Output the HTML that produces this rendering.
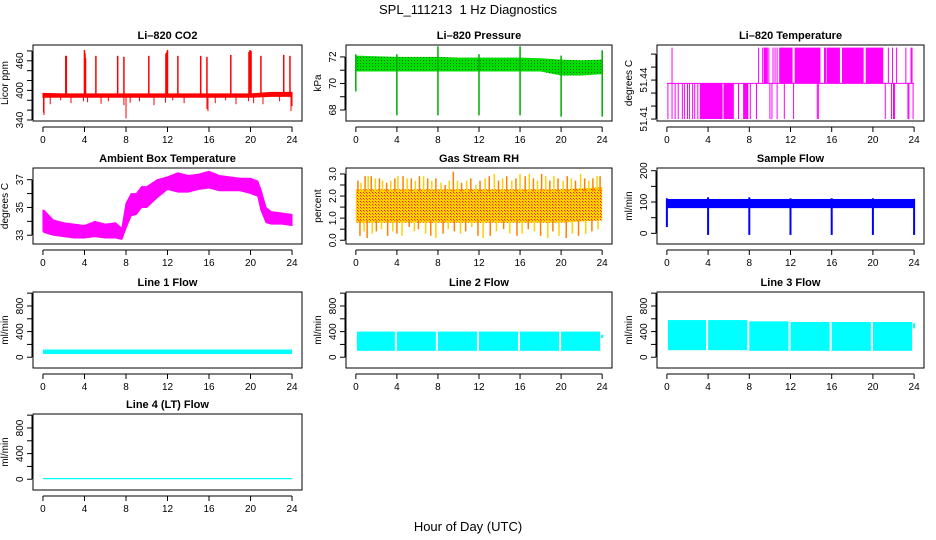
<!DOCTYPE html>
<html><head><meta charset="utf-8"><style>
body{margin:0;background:#fff}
svg{display:block;font-family:"Liberation Sans",Arial,sans-serif}
</style></head><body>
<svg id="c" width="936" height="540" viewBox="0 0 936 540">
<defs><pattern id="rhp" width="3" height="3" patternUnits="userSpaceOnUse"><rect width="3" height="3" fill="#ffd000"/><rect width="1" height="1" fill="#ff2000"/><rect x="1" y="1" width="1" height="1" fill="#ff6000"/></pattern>
<pattern id="prp" width="3" height="3" patternUnits="userSpaceOnUse"><rect width="3" height="3" fill="#00dd00"/><rect width="1" height="1" fill="#007000"/></pattern></defs>
<text x="468" y="14" text-anchor="middle" font-size="13">SPL_111213&#160; 1 Hz Diagnostics</text>
<text x="468" y="531" text-anchor="middle" font-size="13">Hour of Day (UTC)</text>
</svg>
<script>
// ---- data ----
const xTicks=[0,4,8,12,16,20,24];
const co2T=[0,2,4,6,8,10,12,14,16,18,20,22,24];
const co2Lo=[386,386,386,386,386,386,386,386,386,386,386,388,388];
const co2Hi=[394,393,393,393,393,393,393,393,393,393,393,396,396];
const co2SpikeT=[2.2,2.25,4.0,4.05,4.1,5.1,7.2,7.8,10.2,11.85,11.95,12.0,13.0,15.2,15.8,18.1,19.85,19.95,20.05,21.0,23.2,23.8];
const co2SpikeV=[470,470,482,475,465,470,470,468,470,475,478,482,470,470,468,472,478,482,480,470,472,470];
const co2DipT=[0.05,0.1,0.7,1.7,2.7,3.9,4.3,5.6,6.3,7.8,8.0,8.4,9.3,10.7,11.8,12.5,13.6,15.8,15.9,16.6,17.6,18.6,19.8,20.3,21.2,22.8,23.9,24.0];
const co2DipV=[355,350,372,380,374,378,376,373,378,370,343,375,378,370,375,380,374,362,358,374,380,372,378,374,372,378,358,368];
const presT=[0,2,4,6,8,10,12,14,16,18,20,22,24];
const presLo=[70.9,70.9,70.9,70.9,70.9,70.9,70.9,70.9,70.9,70.9,70.6,70.6,70.7];
const presHi=[72.1,72.05,72,72,72,71.95,71.95,71.95,71.95,71.9,71.8,71.75,71.8];
const presCalT=[0,4,8,12,16,20,24];
const presCalLo=[69.4,67.6,67.6,67.6,67.6,67.5,67.5];
const presCalHi=[72.2,72.2,72.8,72.2,72.8,72.1,72.5];
const tempLevels=[51.41,51.4375,51.465];
const tempLowLines=[0.1,0.5,0.8,1.1,1.5,1.7,2.0,2.2,2.5,2.7,3.0,8.1,8.7,10.0,10.2,10.7,11.4,12.3,14.6,14.7,21.2,21.8,22.0,22.1,23.4,23.5,23.9];
const tempLowBlocks=[[3.2,5.4],[5.5,6.5],[6.9,7.0],[7.4,7.9]];
const tempHighLines=[0.5,8.9,9.3,9.5,9.9,10.3,10.5,10.7,15.3,15.4,21.5,21.9,22.3,23.2,23.7,23.8];
const tempHighBlocks=[[9.4,9.8],[10.9,12.2],[12.4,14.9],[15.5,16.8],[17.0,19.1],[19.3,21.0]];
const boxT=[0,0.1,1,2,3,4,5,6,7,7.6,8,8.5,9,9.5,10,11,12,13,14,15,16,17,18,19,20,20.7,21,21.5,22,23,24];
const boxLo=[33.3,33.2,33.0,32.9,32.8,32.8,32.9,32.8,32.8,32.7,33.5,34.4,34.5,35.0,35.0,35.7,36.3,36.1,36.1,36.3,36.4,36.2,36.2,36.2,36.0,35.8,34.8,33.9,33.8,33.8,33.7];
const boxHi=[34.8,34.8,34.1,33.9,33.8,33.7,34.0,33.8,33.9,33.5,35.3,36.0,36.0,36.5,36.5,37.0,37.2,37.5,37.3,37.4,37.6,37.3,37.2,37.1,37.1,36.9,36.3,35.0,34.7,34.6,34.5];
const rhT=[0,4,8,12,16,20,24];
const rhLo=[0.8,0.8,0.8,0.8,0.8,0.8,0.9];
const rhHi=[2.3,2.3,2.3,2.3,2.3,2.3,2.4];
const rhUpT=[0.2,0.5,0.9,1.2,1.5,1.9,2.3,2.6,3.0,3.4,3.8,4.1,4.6,5.0,5.4,5.8,6.2,6.6,7.0,7.4,7.8,8.3,8.7,9.1,9.5,9.9,10.3,10.8,11.2,11.7,12.1,12.6,13.0,13.5,13.9,14.3,14.7,15.2,15.6,16.0,16.5,16.9,17.3,17.7,18.1,18.5,18.9,19.3,19.7,20.2,20.6,21.0,21.4,21.9,22.3,22.7,23.1,23.5,23.8];
const rhUpV=[2.7,2.6,2.9,2.9,2.9,2.8,2.8,2.7,2.6,2.7,2.8,2.9,2.9,2.8,2.8,2.7,2.9,2.9,2.8,2.7,2.8,2.6,2.5,2.7,3.1,2.7,2.6,2.7,2.8,2.5,2.7,2.8,2.9,3.0,2.7,2.8,2.9,2.7,2.8,3.0,2.9,3.0,2.8,2.7,3.0,2.9,2.7,2.9,2.8,2.7,2.9,2.8,2.7,3.0,2.8,2.7,2.8,2.9,2.9];
const rhDnT=[0.4,0.8,1.1,1.6,2.0,2.5,3.1,3.6,4.0,4.5,5.2,5.7,6.1,6.8,7.3,7.8,8.5,9.0,9.6,10.2,10.7,11.3,11.9,12.4,13.1,13.7,14.4,15.0,15.7,16.2,16.8,17.4,18.0,18.7,19.2,19.8,20.5,21.1,21.7,22.4,23.0,23.6];
const rhDnV=[0.2,0.4,0.1,0.3,0.4,0.5,0.2,0.4,0.3,0.2,0.6,0.4,0.5,0.3,0.2,0.1,0.3,0.5,0.4,0.3,0.4,0.6,0.2,0.1,0.2,0.4,0.5,0.3,0.2,0.3,0.5,0.4,0.2,0.1,0.4,0.2,0.1,0.3,0.2,0.3,0.4,0.5];
const sfT=[0,24];
const sfLo=[82,82];
const sfHi=[108,108];
const sfCalT=[0,4,8,12,16,20,24];
const sfCalLo=[20,-5,-5,-5,-5,-5,-5];
const sfCalHi=[112,115,115,112,112,112,110];
const segStart=[0.1,4.0,8.0,12.0,16.0,20.0];
const segEnd=[3.8,7.8,11.8,15.8,19.8,23.8];
const l1Lo=50, l1Hi=120;
const l2Lo=[100,100,100,100,100,100];
const l2Hi=[400,400,400,400,400,400];
const l3Lo=[110,110,100,100,100,100];
const l3Hi=[580,580,560,550,550,550];
const l4Lo=0, l4Hi=20;

// ---- layout ----
const svg=document.getElementById('c');
const NS='http://www.w3.org/2000/svg';
const colL=[33,346,657], colR=[302,612,924], rowT=[45,168,292,414], BH=76;
function mk(tag,attrs,parent){const e=document.createElementNS(NS,tag);for(const k in attrs)e.setAttribute(k,attrs[k]);(parent||svg).appendChild(e);return e;}
function panel(name,col,row,title,ylab,yd,yticks,ylabels){
  const L=colL[col],R=colR[col],T=rowT[row],B=T+BH;
  const g=mk('g',{});
  
  
  const pad=(R-L)/1.08*0.04;
  const sx=v=>L+pad+(v+0)*(R-L-2*pad)/24;
  const sy=v=>B-(v-yd[0])/(yd[1]-yd[0])*BH;
  const plot=mk('g',{},g);
  
  
  const box=mk('rect',{x:L,y:T,width:R-L,height:BH,fill:'none',stroke:'#000','stroke-width':1},g);
  
  
  const t=mk('text',{x:(L+R)/2,y:T-6,'text-anchor':'middle','font-size':11,'font-weight':'bold'},g);t.textContent=title;
  
  
  const xa=mk('g',{},g);
  
  
  mk('line',{x1:sx(0),x2:sx(24),y1:B+6,y2:B+6,stroke:'#000'},xa);
  xTicks.forEach(v=>{mk('line',{x1:sx(v),x2:sx(v),y1:B+6,y2:B+11,stroke:'#000'},xa);
    const tl=mk('text',{x:sx(v),y:B+22,'text-anchor':'middle','font-size':10},xa);tl.textContent=v;});
  const ya=mk('g',{},g);
  
  
  mk('line',{x1:L-1,x2:L-1,y1:sy(yticks[0]),y2:sy(yticks[yticks.length-1]),stroke:'#000'},ya);
  yticks.forEach(v=>{mk('line',{x1:L-6,x2:L-1,y1:sy(v),y2:sy(v),stroke:'#000'},ya);});
  ylabels.forEach(v=>{const x=L-10,y=sy(parseFloat(v));const tl=mk('text',{x:x,y:y,'text-anchor':'middle','font-size':10,transform:`rotate(-90 ${x} ${y})`},ya);tl.textContent=v;});
  const yt=mk('text',{x:L-25,y:(T+B)/2,'text-anchor':'middle','font-size':10,transform:`rotate(-90 ${L-25} ${(T+B)/2})`},g);yt.textContent=ylab;
  
  
  return {sx,sy,plot};
}
function band(p,ts,lo,hi,fill){
  let pts=ts.map((t,i)=>p.sx(t)+','+p.sy(hi[i]));
  for(let i=ts.length-1;i>=0;i--)pts.push(p.sx(ts[i])+','+p.sy(lo[i]));
  const e=mk('polygon',{points:pts.join(' '),fill:fill,stroke:fill.startsWith('url')?'none':fill,'stroke-width':1},p.plot);
  
  
}
function vline(p,t,a,b,col,w){
  const e=mk('line',{x1:p.sx(t),x2:p.sx(t),y1:p.sy(a),y2:p.sy(b),stroke:col,'stroke-width':w||1},p.plot);
  
  
}
function block(p,a,b,lo,hi,col){
  const e=mk('rect',{x:p.sx(a),y:p.sy(hi),width:p.sx(b)-p.sx(a),height:p.sy(lo)-p.sy(hi),fill:col},p.plot);
  
  
}
function interp(ts,vs,t){for(let i=0;i<ts.length-1;i++)if(t<=ts[i+1])return vs[i]+(vs[i+1]-vs[i])*(t-ts[i])/(ts[i+1]-ts[i]);return vs[vs.length-1];}

// CO2
let p=panel('co2',0,0,'Li\u2013820 CO2','Licor ppm',[338,492],[340,360,380,400,420,440,460,480],['340','400','460']);
band(p,co2T,co2Lo,co2Hi,'#ff0000');
co2SpikeT.forEach((t,i)=>vline(p,t,interp(co2T,co2Lo,t),co2SpikeV[i],'#ff0000',1.5));
co2DipT.forEach((t,i)=>vline(p,t,interp(co2T,co2Lo,t),co2DipV[i],'#ff0000',1));
// Pressure
p=panel('pressure',1,0,'Li\u2013820 Pressure','kPa',[67.17,72.9],[68,69,70,71,72],['68','70','72']);
band(p,presT,presLo,presHi,'url(#prp)');
presCalT.forEach((t,i)=>{vline(p,t,presCalLo[i],presCalHi[i],'#00dd00',1.5);vline(p,t,presCalLo[i],presCalHi[i],'#004400',0.5);});
// Li-820 temperature
p=panel('temperature',2,0,'Li\u2013820 Temperature','degrees C',[51.4085,51.467],[51.41,51.42,51.43,51.44,51.45,51.46],['51.41','51.44']);
const mg='#ff00ff';
(function(){const e=mk('line',{x1:p.sx(0),x2:p.sx(24),y1:p.sy(tempLevels[1]),y2:p.sy(tempLevels[1]),stroke:mg},p.plot);

})();
tempLowBlocks.forEach(b=>block(p,b[0],b[1],tempLevels[0],tempLevels[1],mg));
tempHighBlocks.forEach(b=>block(p,b[0],b[1],tempLevels[1],tempLevels[2],mg));
tempLowLines.forEach(t=>vline(p,t,tempLevels[0],tempLevels[1],mg));
tempHighLines.forEach(t=>vline(p,t,tempLevels[1],tempLevels[2],mg));
// Ambient box temperature
p=panel('box-temperature',0,1,'Ambient Box Temperature','degrees C',[32.37,37.84],[33,34,35,36,37],['33','35','37']);
band(p,boxT,boxLo,boxHi,mg);
// RH
p=panel('gas-rh',1,1,'Gas Stream RH','percent',[-0.17,3.27],[0,0.5,1,1.5,2,2.5,3],['0.0','1.0','2.0','3.0']);
band(p,rhT,rhLo,rhHi,'url(#rhp)');
rhUpT.forEach((t,i)=>vline(p,t,2.2,rhUpV[i],i%2?'#ffd000':'#ff8000',1.5));
rhDnT.forEach((t,i)=>vline(p,t,0.9,rhDnV[i],i%2?'#ffd000':'#ff8000',1.5));
// Sample flow
p=panel('sample-flow',2,1,'Sample Flow','ml/min',[-34,208.6],[0,50,100,150,200],['0','100','200']);
band(p,sfT,sfLo,sfHi,'#0000ff');
sfCalT.forEach((t,i)=>vline(p,t,sfCalLo[i],sfCalHi[i],'#0000ff',2));
// Line flows
const lt=[0,200,400,600,800,1000], ll=['0','400','800'], cy='#00ffff';
p=panel('line1-flow',0,2,'Line 1 Flow','ml/min',[-168,1018],lt,ll);
block(p,0,24,l1Lo,l1Hi,cy);
p=panel('line2-flow',1,2,'Line 2 Flow','ml/min',[-168,1018],lt,ll);
segStart.forEach((s,i)=>block(p,s,segEnd[i],l2Lo[i],l2Hi[i],cy));
vline(p,24,300,350,cy,2);
p=panel('line3-flow',2,2,'Line 3 Flow','ml/min',[-168,1018],lt,ll);
segStart.forEach((s,i)=>block(p,s,segEnd[i],l3Lo[i],l3Hi[i],cy));
vline(p,24,450,530,cy,2);
p=panel('line4-flow',0,3,'Line 4 (LT) Flow','ml/min',[-168,1018],lt,ll);
block(p,0,24,l4Lo,l4Hi,cy);
</script>
</body></html>
